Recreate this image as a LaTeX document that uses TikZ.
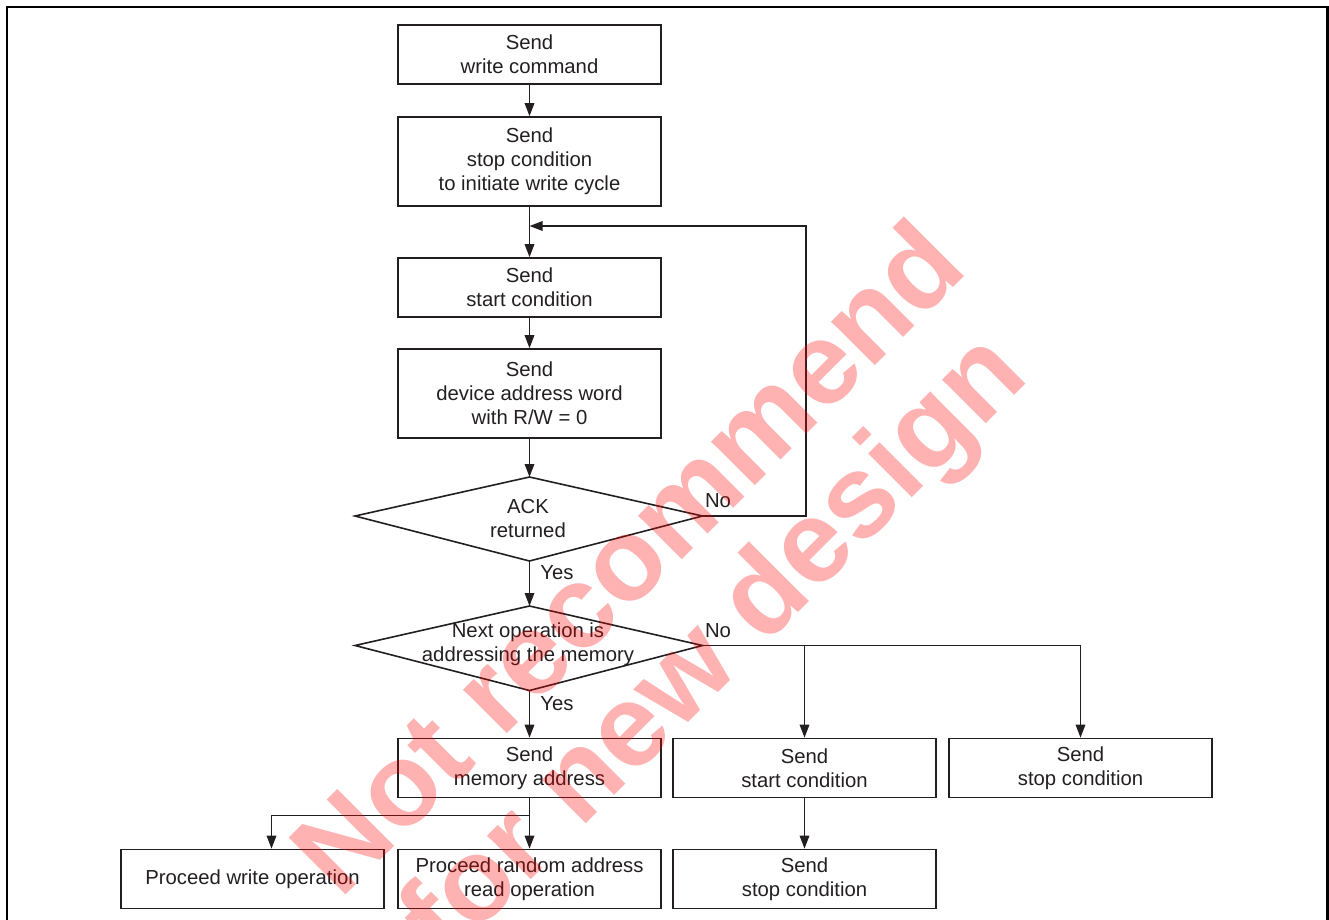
\documentclass[tikz,border=0pt]{standalone}
\usepackage{fontspec}
\setmainfont{Liberation Sans}
\usetikzlibrary{arrows.meta}
\definecolor{ink}{RGB}{35,31,32}
\tikzset{
  box/.style={draw=ink, line width=1.6pt, minimum width=263pt, inner sep=0pt, align=center, text=ink,
    font=\fontsize{20.3}{24}\selectfont},
  lbl/.style={inner sep=0pt, text=ink, font=\fontsize{20.3}{24}\selectfont},
  conn/.style={draw=ink, line width=1.6pt},
  arr/.style={conn, -{Triangle[length=13pt,width=9.5pt]}},
  wmark/.style={rotate=45, text=red, text opacity=0.3, inner sep=0pt,
    font=\bfseries\fontsize{117}{117}\selectfont}
}
\begin{document}
\begin{tikzpicture}[x=1pt,y=-1pt]
\useasboundingbox (0,0) rectangle (1329,919);
\clip (0,0) rectangle (1329,919);
% frame
\draw[line width=2.2pt, black] (7,930) -- (7,7) -- (1327.5,7) -- (1327.5,930);

% boxes
\node[box, minimum height=59pt] (b1) at (529.5,54.5) {Send\\write command};
\node[box, minimum height=89pt] (b2) at (529.5,161.5) {Send\\stop condition\\to initiate write cycle};
\node[box, minimum height=59pt] (b3) at (529.5,287.5) {Send\\start condition};
\node[box, minimum height=89pt] (b4) at (529.5,393.5) {Send\\device address word\\with R/W = 0};

% diamond 1
\coordinate (d1t) at (529.5,477);
\coordinate (d1r) at (702.5,516);
\coordinate (d1b) at (529.5,561);
\coordinate (d1l) at (355,516);
\draw[conn, line join=miter] (d1t) -- (d1r) -- (d1b) -- (d1l) -- cycle;
\node[lbl, align=center] (d1) at (528,518) {ACK\\returned};

% diamond 2
\coordinate (d2t) at (529.5,606);
\coordinate (d2r) at (702.5,645.5);
\coordinate (d2b) at (529.5,690.5);
\coordinate (d2l) at (355,645.5);
\draw[conn, line join=miter] (d2t) -- (d2r) -- (d2b) -- (d2l) -- cycle;
\node[lbl, align=center] (d2) at (528,644.5) {Next operation is\\addressing the memory};

\node[box, minimum height=59pt] (b5) at (529.5,768) {Send\\memory address};
\node[box, minimum height=59pt] (b6) at (804.5,768) {Send\\start condition};
\node[box, minimum height=59pt] (b7) at (1080.5,768) {Send\\stop condition};
\node[box, minimum height=59pt] (b8) at (804.5,879) {Send\\stop condition};
\node[box, minimum height=59pt] (b9) at (252.5,879) {Proceed write operation};
\node[box, minimum height=59pt] (b10) at (529.5,879) {Proceed random address\\read operation};

% labels
\node[lbl] (no1) at (718,501) {No};
\node[lbl] (yes1) at (557,573) {Yes};
\node[lbl] (no2) at (718,631) {No};
\node[lbl] (yes2) at (557,704) {Yes};

% connectors
\coordinate (j1) at (529.5,226);
\coordinate (j2) at (529.5,815.5);
\draw[arr] (b1) -- (b2);
\draw[arr] (b2) -- (b3);
\draw[arr] (b3) -- (b4);
\draw[arr] (b4) -- (d1t);
\draw[arr] (d1r) -- (806,516) |- (j1);
\draw[arr] (d1b) -- (d2t);
\draw[arr] (d2b) -- (b5);
\draw[arr] (d2r) -| (b7.north);
\draw[arr] (b6.north |- d2r) -- (b6.north);
\draw[arr] (b6) -- (b8);
\draw[arr] (b5) -- (b10);
\draw[arr] (j2) -| ([xshift=19pt]b9.north);

% watermark
\node[wmark] (wm1) at (626,556) {Not recommend};
\node[wmark] (wm2) at (718,650) {for new design};
\end{tikzpicture}
\end{document}
